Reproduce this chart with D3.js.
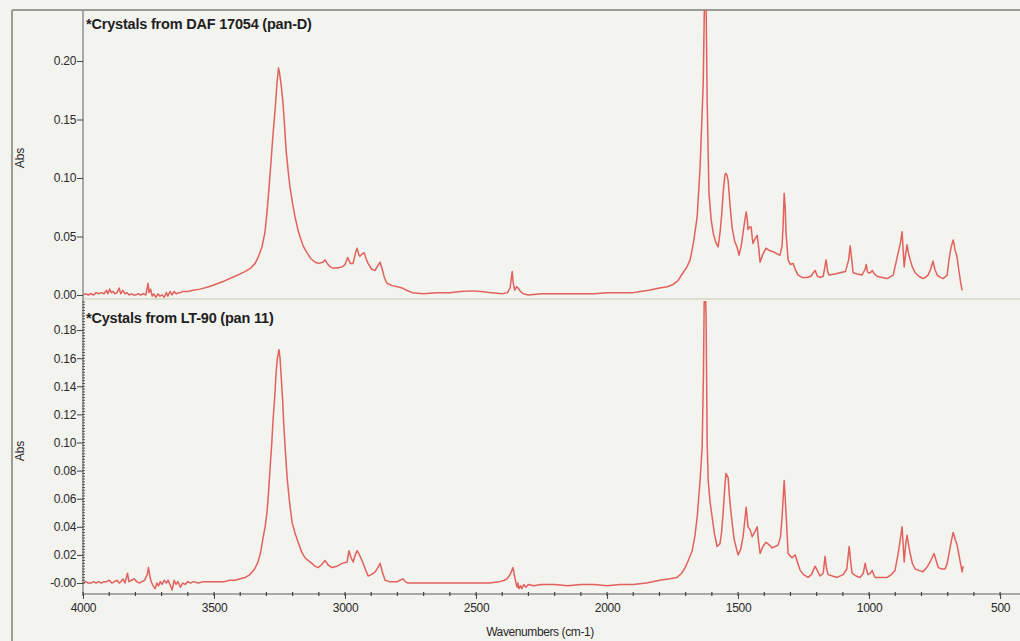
<!DOCTYPE html>
<html><head><meta charset="utf-8">
<script src="https://cdn.jsdelivr.net/npm/d3@7"></script>
<style>
html,body{margin:0;padding:0;background:#f3f3ef;}
svg{display:block;font-family:"Liberation Sans",Arial,sans-serif;}
</style></head>
<body>
<svg id="chart" width="1020" height="641"></svg>
<script>
// ---- data (wavenumber cm-1, absorbance) ----
const topTitle = "*Crystals from DAF 17054 (pan-D)";
const bottomTitle = "*Cystals from LT-90 (pan 11)";
const topSpectrum = [
[4000,0.000],[3990,0.001],[3980,0.000],[3970,0.001],[3960,0.000],[3950,0.002],[3940,0.001],[3930,0.002],[3920,0.001],[3910,0.004],
[3905,0.001],[3898,0.005],[3892,0.002],[3885,0.003],[3878,0.001],[3870,0.002],[3862,0.006],[3856,0.001],[3848,0.004],[3840,0.001],
[3832,0.002],[3824,0.000],[3815,0.001],[3806,0.000],[3798,0.000],[3790,0.001],[3780,0.000],[3770,0.001],[3760,0.000],[3752,0.010],
[3748,0.002],[3742,0.005],[3736,-0.001],[3730,0.001],[3722,-0.002],[3714,0.001],[3706,-0.001],[3698,0.000],[3690,-0.002],[3682,0.002],
[3676,-0.001],[3668,0.003],[3660,0.000],[3652,0.003],[3644,0.001],[3636,0.002],[3628,0.002],[3620,0.003],[3600,0.003],[3580,0.004],
[3553,0.005],[3520,0.007],[3496,0.009],[3460,0.012],[3420,0.016],[3400,0.018],[3382,0.020],[3360,0.023],[3343,0.027],[3330,0.033],
[3317,0.041],[3306,0.053],[3298,0.070],[3290,0.092],[3282,0.115],[3275,0.137],[3267,0.158],[3260,0.180],[3254,0.194],[3250,0.190],
[3244,0.180],[3237,0.165],[3230,0.142],[3225,0.124],[3217,0.106],[3210,0.092],[3200,0.078],[3191,0.067],[3180,0.056],[3172,0.050],
[3160,0.042],[3145,0.036],[3130,0.031],[3114,0.028],[3100,0.027],[3085,0.028],[3076,0.030],[3068,0.027],[3056,0.024],[3046,0.023],
[3030,0.023],[3011,0.024],[3000,0.026],[2990,0.032],[2980,0.027],[2969,0.027],[2960,0.036],[2954,0.040],[2948,0.035],[2943,0.033],
[2935,0.035],[2927,0.036],[2918,0.030],[2912,0.027],[2898,0.022],[2885,0.021],[2875,0.025],[2866,0.028],[2858,0.022],[2850,0.015],
[2840,0.010],[2820,0.008],[2800,0.007],[2782,0.006],[2765,0.004],[2744,0.002],[2700,0.001],[2650,0.002],[2600,0.002],[2560,0.003],
[2520,0.0035],[2480,0.003],[2440,0.002],[2400,0.001],[2380,0.002],[2370,0.006],[2362,0.020],[2358,0.010],[2352,0.004],[2346,0.007],
[2340,0.006],[2330,0.003],[2320,0.001],[2300,0.000],[2250,0.001],[2200,0.001],[2150,0.001],[2100,0.001],[2050,0.001],[2000,0.002],
[1950,0.002],[1900,0.002],[1874,0.003],[1840,0.004],[1800,0.006],[1770,0.007],[1748,0.009],[1730,0.012],[1710,0.019],[1695,0.024],
[1683,0.030],[1670,0.045],[1656,0.067],[1645,0.109],[1638,0.150],[1633,0.181],[1629,0.240],[1626,0.260],[1622,0.250],[1618,0.167],
[1614,0.120],[1611,0.087],[1603,0.065],[1595,0.053],[1585,0.045],[1576,0.041],[1568,0.055],[1562,0.070],[1557,0.087],[1550,0.103],
[1546,0.104],[1542,0.102],[1538,0.098],[1530,0.075],[1523,0.058],[1513,0.046],[1504,0.041],[1496,0.034],[1488,0.042],[1481,0.053],
[1474,0.064],[1469,0.071],[1465,0.065],[1462,0.056],[1456,0.058],[1450,0.058],[1446,0.049],[1443,0.044],[1435,0.048],[1427,0.051],
[1421,0.040],[1416,0.028],[1405,0.035],[1393,0.040],[1380,0.038],[1366,0.037],[1350,0.035],[1340,0.034],[1332,0.042],[1328,0.060],
[1324,0.087],[1320,0.075],[1317,0.053],[1309,0.030],[1300,0.026],[1290,0.027],[1280,0.021],[1271,0.017],[1255,0.015],[1237,0.015],
[1222,0.016],[1206,0.021],[1197,0.016],[1187,0.015],[1175,0.016],[1164,0.030],[1158,0.020],[1153,0.017],[1130,0.018],[1111,0.019],
[1090,0.020],[1078,0.030],[1072,0.042],[1066,0.030],[1061,0.019],[1045,0.018],[1027,0.017],[1015,0.022],[1011,0.026],[1006,0.020],
[1004,0.019],[995,0.019],[988,0.021],[980,0.018],[969,0.016],[950,0.015],[931,0.014],[908,0.017],[895,0.030],[889,0.036],
[880,0.045],[874,0.054],[869,0.035],[866,0.024],[861,0.034],[855,0.043],[850,0.036],[843,0.030],[835,0.024],[824,0.019],
[810,0.016],[794,0.014],[785,0.015],[775,0.017],[765,0.022],[756,0.029],[749,0.022],[740,0.017],[728,0.015],[717,0.014],
[707,0.016],[702,0.017],[695,0.030],[687,0.041],[679,0.047],[675,0.043],[672,0.038],[668,0.036],[664,0.032],[660,0.025],
[656,0.019],[650,0.010],[645,0.004]
];
const bottomSpectrum = [
[4000,0.000],[3990,0.001],[3980,0.000],[3970,0.000],[3960,0.001],[3950,0.000],[3940,0.001],[3930,0.000],[3920,0.001],[3910,0.001],
[3900,0.002],[3890,0.000],[3880,0.001],[3870,0.002],[3862,0.000],[3855,0.001],[3848,0.003],[3840,0.000],[3830,0.007],[3825,0.001],
[3815,0.002],[3805,0.003],[3795,0.001],[3785,0.000],[3775,0.001],[3765,0.002],[3755,0.006],[3750,0.011],[3745,0.005],[3740,0.001],
[3732,-0.002],[3725,-0.004],[3718,0.000],[3712,-0.002],[3705,0.001],[3698,-0.001],[3690,0.002],[3682,0.000],[3675,0.002],[3668,-0.001],
[3660,-0.005],[3652,0.002],[3645,-0.001],[3638,0.001],[3628,-0.003],[3620,0.000],[3610,-0.001],[3600,0.001],[3590,0.000],[3580,0.001],
[3560,0.000],[3540,0.001],[3520,0.001],[3500,0.001],[3480,0.001],[3460,0.001],[3440,0.002],[3420,0.002],[3400,0.003],[3380,0.004],
[3363,0.006],[3345,0.010],[3332,0.015],[3322,0.022],[3313,0.032],[3305,0.040],[3298,0.050],[3292,0.064],[3286,0.082],[3280,0.098],
[3275,0.115],[3268,0.133],[3263,0.150],[3258,0.160],[3252,0.166],[3248,0.160],[3244,0.148],[3238,0.130],[3233,0.110],[3227,0.092],
[3221,0.075],[3212,0.058],[3202,0.043],[3190,0.035],[3179,0.029],[3165,0.022],[3153,0.018],[3140,0.016],[3126,0.014],[3115,0.012],
[3103,0.011],[3090,0.013],[3076,0.016],[3065,0.013],[3050,0.011],[3030,0.012],[3011,0.014],[2992,0.015],[2985,0.023],[2977,0.018],
[2969,0.015],[2961,0.020],[2954,0.023],[2945,0.020],[2935,0.016],[2925,0.011],[2912,0.005],[2900,0.006],[2885,0.008],[2875,0.011],
[2866,0.014],[2858,0.008],[2847,0.002],[2830,0.001],[2801,0.001],[2790,0.002],[2779,0.003],[2770,0.001],[2760,0.000],[2700,0.000],
[2650,0.000],[2600,0.000],[2550,0.000],[2500,0.000],[2450,0.000],[2410,0.001],[2392,0.002],[2382,0.003],[2370,0.006],[2359,0.011],
[2352,0.004],[2346,-0.001],[2343,-0.003],[2340,0.000],[2336,-0.004],[2330,-0.002],[2325,-0.004],[2318,-0.001],[2310,-0.003],[2300,-0.001],
[2280,-0.002],[2250,-0.001],[2200,-0.001],[2150,-0.002],[2100,-0.001],[2050,-0.001],[2000,-0.002],[1950,-0.001],[1900,-0.001],[1850,-0.000],
[1798,0.002],[1760,0.003],[1733,0.004],[1715,0.007],[1702,0.011],[1690,0.016],[1675,0.023],[1665,0.033],[1656,0.047],[1645,0.073],
[1637,0.097],[1632,0.150],[1629,0.205],[1626,0.215],[1622,0.190],[1618,0.100],[1614,0.073],[1607,0.058],[1599,0.047],[1590,0.035],
[1580,0.026],[1569,0.028],[1563,0.036],[1557,0.050],[1550,0.070],[1546,0.078],[1538,0.075],[1533,0.062],[1527,0.050],[1515,0.031],
[1500,0.020],[1490,0.024],[1481,0.033],[1474,0.045],[1469,0.054],[1462,0.040],[1454,0.038],[1446,0.033],[1437,0.036],[1427,0.040],
[1422,0.030],[1416,0.021],[1405,0.026],[1393,0.029],[1380,0.027],[1370,0.025],[1358,0.026],[1347,0.027],[1338,0.033],[1332,0.047],
[1324,0.073],[1317,0.050],[1309,0.021],[1300,0.019],[1294,0.018],[1282,0.020],[1270,0.013],[1263,0.009],[1250,0.006],[1233,0.004],
[1220,0.006],[1206,0.012],[1195,0.008],[1187,0.005],[1175,0.007],[1168,0.019],[1162,0.010],[1156,0.006],[1140,0.005],[1122,0.004],
[1099,0.006],[1085,0.010],[1076,0.026],[1070,0.015],[1065,0.007],[1050,0.005],[1034,0.004],[1022,0.007],[1015,0.014],[1008,0.008],
[1004,0.006],[995,0.007],[988,0.009],[980,0.005],[977,0.004],[960,0.004],[931,0.004],[915,0.006],[901,0.009],[890,0.020],
[885,0.026],[874,0.040],[866,0.015],[860,0.028],[855,0.034],[849,0.027],[843,0.021],[835,0.014],[824,0.010],[810,0.009],
[794,0.008],[780,0.011],[767,0.015],[752,0.021],[744,0.016],[736,0.011],[722,0.010],[710,0.010],[702,0.014],[695,0.021],
[686,0.030],[679,0.036],[671,0.031],[664,0.027],[657,0.020],[652,0.015],[645,0.008],[641,0.012]
];
const topTicks = [0, 0.05, 0.10, 0.15, 0.20];
const bottomTicks = [0, 0.02, 0.04, 0.06, 0.08, 0.10, 0.12, 0.14, 0.16, 0.18];
const xTicks = [4000, 3500, 3000, 2500, 2000, 1500, 1000, 500];
const xLabel = "Wavenumbers (cm-1)";
const yLabel = "Abs";

// ---- layout ----
const svg = d3.select("#chart");
const plotL = 83, plotR = 1020;
const topY0 = 10, topY1 = 300, botY0 = 300, botY1 = 594;
const lineColor = "#e2615b";

const x = d3.scaleLinear().domain([4000, 424]).range([plotL, plotR]);
const yTop = d3.scaleLinear().domain([-0.0043, 0.2436]).range([topY1, topY0]);
const yBot = d3.scaleLinear().domain([-0.0078, 0.2014]).range([botY1, botY0]);

// outer frame
svg.append("line").attr("x1",12).attr("x2",1020).attr("y1",10).attr("y2",10).attr("stroke","#9a9d96").attr("stroke-width",2);
svg.append("line").attr("x1",12).attr("x2",12).attr("y1",10).attr("y2",641).attr("stroke","#9a9d96").attr("stroke-width",2);
// panel separator
svg.append("line").attr("x1",plotL).attr("x2",plotR).attr("y1",299).attr("y2",299).attr("stroke","#deded0").attr("stroke-width",2);

const defs = svg.append("defs");
defs.append("clipPath").attr("id","clipTop").append("rect").attr("x",plotL).attr("y",topY0).attr("width",plotR-plotL).attr("height",topY1-topY0-2);
defs.append("clipPath").attr("id","clipBot").append("rect").attr("x",plotL).attr("y",botY0+1).attr("width",plotR-plotL).attr("height",botY1-botY0-1);

function drawPanel(data, y, clip) {
  const line = d3.line().x(d => x(d[0])).y(d => y(d[1]));
  svg.append("path").datum(data).attr("clip-path", `url(#${clip})`)
    .attr("d", line).attr("fill","none").attr("stroke",lineColor)
    .attr("stroke-width",1.5).attr("stroke-linejoin","round");
}
drawPanel(topSpectrum, yTop, "clipTop");
drawPanel(bottomSpectrum, yBot, "clipBot");

// left axis line
svg.append("line").attr("x1",plotL).attr("x2",plotL).attr("y1",10).attr("y2",botY1).attr("stroke","#8f918b").attr("stroke-width",1.5);

// top y axis
const gTop = svg.append("g").attr("transform",`translate(${plotL},0)`)
  .call(d3.axisLeft(yTop).tickValues(topTicks).tickSize(6).tickPadding(1).tickFormat(d3.format(".2f")));
// bottom y axis minor ticks
const minor = d3.range(0, 0.2001, 0.002);
svg.append("g").selectAll("line").data(minor).join("line")
  .attr("x1",plotL-1).attr("x2",plotL+2).attr("y1",d=>yBot(d)).attr("y2",d=>yBot(d))
  .attr("stroke","#555").attr("stroke-width",1);
const gBot = svg.append("g").attr("transform",`translate(${plotL},0)`)
  .call(d3.axisLeft(yBot).tickValues(bottomTicks).tickSize(6).tickPadding(1)
    .tickFormat(d => d === 0 ? "-0.00" : d3.format(".2f")(d)));
[gTop, gBot].forEach(g => {
  g.select(".domain").remove();
  g.selectAll(".tick line").attr("stroke","#444");
  g.selectAll(".tick text").attr("fill","#2a2a2a").attr("font-size",12)
    .attr("font-family","'Liberation Sans', Arial, sans-serif").attr("letter-spacing","-0.3");
});

// x axis
svg.append("line").attr("x1",plotL).attr("x2",plotR).attr("y1",botY1).attr("y2",botY1).attr("stroke","#8f918b").attr("stroke-width",1.5);
const xMinor = d3.range(4000, 399, -100);
svg.append("g").selectAll("line").data(xMinor).join("line")
  .attr("x1",d=>x(d)).attr("x2",d=>x(d)).attr("y1",botY1-2).attr("y2",botY1+2)
  .attr("stroke","#444").attr("stroke-width",1.2);
const gX = svg.append("g").attr("transform",`translate(0,${botY1})`)
  .call(d3.axisBottom(x).tickValues(xTicks).tickSize(5).tickPadding(4).tickFormat(d3.format("d")));
gX.select(".domain").remove();
gX.selectAll(".tick line").attr("stroke","#444");
gX.selectAll(".tick text").attr("fill","#2a2a2a").attr("font-size",12)
  .attr("font-family","'Liberation Sans', Arial, sans-serif").attr("letter-spacing","-0.3");

// axis titles
svg.append("text").attr("x",540).attr("y",636).attr("text-anchor","middle")
  .attr("font-size",12).attr("fill","#2a2a2a").attr("letter-spacing","-0.4").text(xLabel);
[[yTop, 158],[yBot, 451]].forEach(([s, cy]) => {
  svg.append("text").attr("transform",`translate(24,${cy}) rotate(-90)`).attr("text-anchor","middle")
    .attr("font-size",12).attr("fill","#2a2a2a").text(yLabel);
});

// panel titles
svg.append("text").attr("x",86).attr("y",29).attr("font-size",14.5).attr("font-weight","bold")
  .attr("fill","#1e1e1e").attr("letter-spacing","-0.2").text(topTitle);
svg.append("text").attr("x",86).attr("y",323).attr("font-size",14.5).attr("font-weight","bold")
  .attr("fill","#1e1e1e").attr("letter-spacing","-0.2").text(bottomTitle);
</script>
</body></html>
